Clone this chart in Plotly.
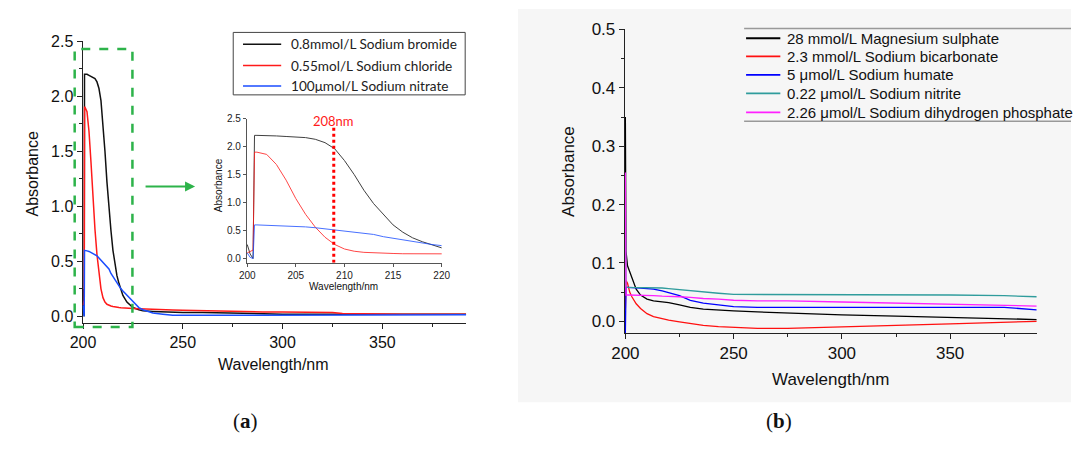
import plotly.graph_objects as go

W, H = 1080, 454

# ---------------- data (a) ----------------
wl_a = [200.0, 200.3, 200.6, 200.75, 201, 202, 203, 204, 205, 206, 207, 208, 209, 210,
        211, 212, 213, 214, 215, 216, 217, 218, 219, 220, 222, 225, 228, 230, 235, 240,
        245, 250, 260, 270, 280, 290, 300, 310, 320, 325, 330, 340, 350, 360, 370, 380, 392]
nabr = [0.25, 0.08, 0.0, 2.2, 2.2, 2.2, 2.19, 2.18, 2.17, 2.16, 2.13, 2.07, 1.96, 1.75,
        1.5, 1.22, 0.98, 0.78, 0.6, 0.47, 0.37, 0.3, 0.24, 0.19, 0.13, 0.08, 0.06, 0.05, 0.045, 0.04,
        0.04, 0.035, 0.035, 0.03, 0.03, 0.025, 0.02, 0.02, 0.02, 0.02, 0.02, 0.02, 0.02, 0.02, 0.02, 0.02, 0.02]
nacl = [0.1, 0.12, 0.15, 1.9, 1.9, 1.86, 1.68, 1.4, 1.07, 0.79, 0.56, 0.38, 0.25, 0.17,
        0.13, 0.11, 0.1, 0.095, 0.09, 0.085, 0.082, 0.08, 0.078, 0.076, 0.075, 0.072, 0.07, 0.068, 0.065, 0.06,
        0.058, 0.055, 0.05, 0.045, 0.045, 0.04, 0.04, 0.04, 0.038, 0.035, 0.025, 0.022, 0.02, 0.02, 0.02, 0.02, 0.02]
nano3 = [0.1, 0.02, 0.0, 0.6, 0.6, 0.595, 0.59, 0.58, 0.575, 0.565, 0.55, 0.53, 0.51, 0.49,
         0.47, 0.455, 0.43, 0.39, 0.36, 0.33, 0.3, 0.27, 0.25, 0.23, 0.19, 0.13, 0.08, 0.06, 0.03, 0.02,
         0.01, 0.01, 0.01, 0.01, 0.012, 0.012, 0.012, 0.013, 0.013, 0.014, 0.014, 0.014, 0.015, 0.015, 0.015, 0.015, 0.015]
names_a = ["0.8mmol/L Sodium bromide", "0.55mol/L Sodium chloride", "100μmol/L Sodium nitrate"]
colors_a = ["#111111", "#ff1a1a", "#1a4dff"]
marker_nm = 208.9
marker_label = "208nm"

# ---------------- data (b) ----------------
wl_b = [200.0, 200.3, 201, 202, 203, 205, 207, 210, 213, 217, 220, 225, 230, 236, 243,
        250, 261, 275, 300, 325, 350, 375, 390]
mgso4 = [0.35, 0.12, 0.095, 0.085, 0.072, 0.055, 0.045, 0.038, 0.035, 0.034, 0.032, 0.028, 0.024, 0.021, 0.019,
         0.018, 0.016, 0.014, 0.011, 0.009, 0.007, 0.005, 0.003]
nahco3 = [0.02, 0.07, 0.065, 0.05, 0.042, 0.03, 0.022, 0.013, 0.008, 0.004, 0.002, -0.001, -0.004, -0.007, -0.009,
          -0.01, -0.012, -0.012, -0.009, -0.007, -0.0045, -0.002, 0.0]
humate = [-0.02, 0.058, 0.058, 0.058, 0.058, 0.057, 0.057, 0.056, 0.055, 0.052, 0.049, 0.044, 0.036, 0.031, 0.028,
          0.025, 0.024, 0.024, 0.024, 0.025, 0.025, 0.024, 0.0195]
nitrite = [0.2, 0.06, 0.058, 0.058, 0.058, 0.058, 0.057, 0.057, 0.057, 0.057, 0.056, 0.054, 0.052, 0.05, 0.048,
           0.046, 0.046, 0.046, 0.046, 0.046, 0.045, 0.044, 0.042]
phosphate = [0.255, 0.045, 0.045, 0.045, 0.045, 0.045, 0.044, 0.044, 0.044, 0.043, 0.043, 0.042, 0.041, 0.039, 0.038,
             0.036, 0.035, 0.035, 0.033, 0.031, 0.029, 0.028, 0.026]
names_b = ["28 mmol/L Magnesium sulphate", "2.3 mmol/L Sodium bicarbonate", "5 μmol/L Sodium humate",
           "0.22 μmol/L Sodium nitrite", "2.26 μmol/L Sodium dihydrogen phosphate"]
colors_b = ["#000000", "#ff1010", "#0000ff", "#2f9c9c", "#ff20ff"]

# ---------------- helpers ----------------
def px(x):
    return x / W

def py(y):
    return 1 - y / H

FONT = "Liberation Sans, Arial, sans-serif"
CAL = "Lato, Carlito, sans-serif"

fig = go.Figure()

series_a = [nabr, nacl, nano3]
for ys, nm, c in zip(series_a, names_a, colors_a):
    fig.add_trace(go.Scatter(x=wl_a, y=ys, mode="lines", name=nm, line=dict(color=c, width=1.5),
                             xaxis="x", yaxis="y", showlegend=False))
for ys, nm, c in zip(series_a, names_a, colors_a):
    fig.add_trace(go.Scatter(x=wl_a, y=ys, mode="lines", name=nm, line=dict(color=c, width=1),
                             opacity=0.8, xaxis="x2", yaxis="y2", showlegend=False))
series_b = [mgso4, nahco3, humate, nitrite, phosphate]
for ys, nm, c in zip(series_b, names_b, colors_b):
    fig.add_trace(go.Scatter(x=wl_b, y=ys, mode="lines", name=nm, line=dict(color=c, width=1.3),
                             xaxis="x3", yaxis="y3", showlegend=False))

axis_common = dict(showline=True, linecolor="#222", linewidth=1, ticks="outside", tickcolor="#222",
                   showgrid=False, zeroline=False, mirror=False, layer="below traces")

shapes = []
annotations = []

# background of panel b
shapes.append(dict(type="rect", xref="paper", yref="paper", x0=px(515), x1=1, y0=py(403), y1=1,
                   fillcolor="#f6f6f6", line=dict(width=0), layer="below"))

# green dashed frame and arrow
shapes.append(dict(type="rect", xref="paper", yref="paper", x0=px(62), x1=px(121), y0=py(326), y1=py(41),
                   line=dict(color="#2db34a", width=2.5, dash="dash")))
annotations.append(dict(xref="paper", yref="paper", x=px(185), y=py(182), ax=-51, ay=0, text="",
                        showarrow=True, arrowhead=2, arrowsize=1, arrowwidth=2, arrowcolor="#2db34a"))

# 208 nm marker in inset
shapes.append(dict(type="line", xref="x2", yref="y2", x0=marker_nm, x1=marker_nm, y0=-0.075, y1=2.38,
                   line=dict(color="#ff0000", width=3, dash="dot")))
annotations.append(dict(xref="x2", yref="paper", x=marker_nm, y=py(105), text=marker_label, showarrow=False,
                        font=dict(family=CAL, size=13, color="#ff1a1a")))

# legend (a)
shapes.append(dict(type="rect", xref="paper", yref="paper", x0=px(224), x1=px(461), y0=py(88), y1=py(24),
                   line=dict(color="#444", width=1), fillcolor="white"))
rows_a = [36, 58, 79]
for r, nm, c in zip(rows_a, names_a, colors_a):
    shapes.append(dict(type="line", xref="paper", yref="paper", x0=px(234), x1=px(273), y0=py(r), y1=py(r),
                       line=dict(color=c, width=1.5)))
    annotations.append(dict(xref="paper", yref="paper", x=px(281), y=py(r), text=nm, showarrow=False,
                            xanchor="left", yanchor="middle", font=dict(family=CAL, size=13.6, color="#222")))

# legend (b)
for yy in (20, 115):
    shapes.append(dict(type="line", xref="paper", yref="paper", x0=px(746), x1=1, y0=py(yy), y1=py(yy),
                       line=dict(color="#999", width=1.5)))
rows_b = [30, 48.5, 67.5, 86.5, 106]
for r, nm, c in zip(rows_b, names_b, colors_b):
    shapes.append(dict(type="line", xref="paper", yref="paper", x0=px(748), x1=px(783), y0=py(r), y1=py(r),
                       line=dict(color=c, width=1.8)))
    annotations.append(dict(xref="paper", yref="paper", x=px(788), y=py(r), text=nm, showarrow=False,
                            xanchor="left", yanchor="middle", font=dict(family=FONT, size=15, color="#111")))

# axis titles
def title(x, y, text, size, angle=0):
    annotations.append(dict(xref="paper", yref="paper", x=px(x), y=py(y), text=text, showarrow=False,
                            textangle=angle, xanchor="center", yanchor="middle",
                            font=dict(family=FONT, size=size, color="#111")))

title(19, 169, "Absorbance", 16, -90)
title(265, 364, "Wavelength/nm", 16)
title(209, 181, "Absorbance", 10, -90)
title(337, 284, "Wavelength/nm", 10)
title(567, 166, "Absorbance", 17, -90)
title(834, 380, "Wavelength/nm", 17)

# panel labels
for x, lab in ((222, "a"), (797, "b")):
    annotations.append(dict(xref="paper", yref="paper", x=px(x), y=py(437), text="(<b>%s</b>)" % lab,
                            showarrow=False, font=dict(family="Liberation Serif, DejaVu Serif, serif",
                                                       size=21, color="#111")))

fig.update_layout(
    width=W, height=H, margin=dict(l=0, r=0, t=0, b=0),
    paper_bgcolor="white", plot_bgcolor="rgba(0,0,0,0)",
    showlegend=False,
    xaxis=dict(axis_common, domain=[px(70), px(462)], range=[199.75, 392], anchor="y",
               tickvals=[200, 250, 300, 350], ticklen=5,
               minor=dict(dtick=25, tick0=200, ticklen=3, ticks="outside", tickcolor="#222"),
               tickfont=dict(family=FONT, size=16, color="#111")),
    yaxis=dict(axis_common, domain=[py(322), py(33)], range=[-0.062, 2.5], anchor="x",
               tickvals=[0, 0.5, 1.0, 1.5, 2.0, 2.5], ticktext=["0.0", "0.5", "1.0", "1.5", "2.0", "2.5"], ticklen=5,
               minor=dict(dtick=0.25, tick0=0, ticklen=3, ticks="outside", tickcolor="#222"),
               tickfont=dict(family=FONT, size=16, color="#111")),
    xaxis2=dict(axis_common, domain=[px(238), px(437)], range=[199.97, 220], anchor="y2",
                tickvals=[200, 205, 210, 215, 220], ticklen=3, linecolor="#555", tickcolor="#555",
                tickfont=dict(family=FONT, size=10, color="#222")),
    yaxis2=dict(axis_common, domain=[py(260), py(112.3)], range=[-0.075, 2.5], anchor="x2",
                tickvals=[0, 0.5, 1.0, 1.5, 2.0, 2.5], ticktext=["0.0", "0.5", "1.0", "1.5", "2.0", "2.5"],
                ticklen=3, linecolor="#555", tickcolor="#555",
                tickfont=dict(family=FONT, size=10, color="#222")),
    xaxis3=dict(axis_common, domain=[px(624), px(1045)], range=[199.7, 390], anchor="y3",
                tickvals=[200, 250, 300, 350], ticklen=5,
                minor=dict(dtick=25, tick0=200, ticklen=3, ticks="outside", tickcolor="#222"),
                tickfont=dict(family=FONT, size=17, color="#111")),
    yaxis3=dict(axis_common, domain=[py(332), py(21)], range=[-0.02, 0.5], anchor="x3",
                tickvals=[0, 0.1, 0.2, 0.3, 0.4, 0.5], ticktext=["0.0", "0.1", "0.2", "0.3", "0.4", "0.5"],
                ticklen=5,
                minor=dict(dtick=0.05, tick0=0, ticklen=3, ticks="outside", tickcolor="#222"),
                tickfont=dict(family=FONT, size=17, color="#111")),
    shapes=shapes,
    annotations=annotations,
)

fig.write_html("out.html")
